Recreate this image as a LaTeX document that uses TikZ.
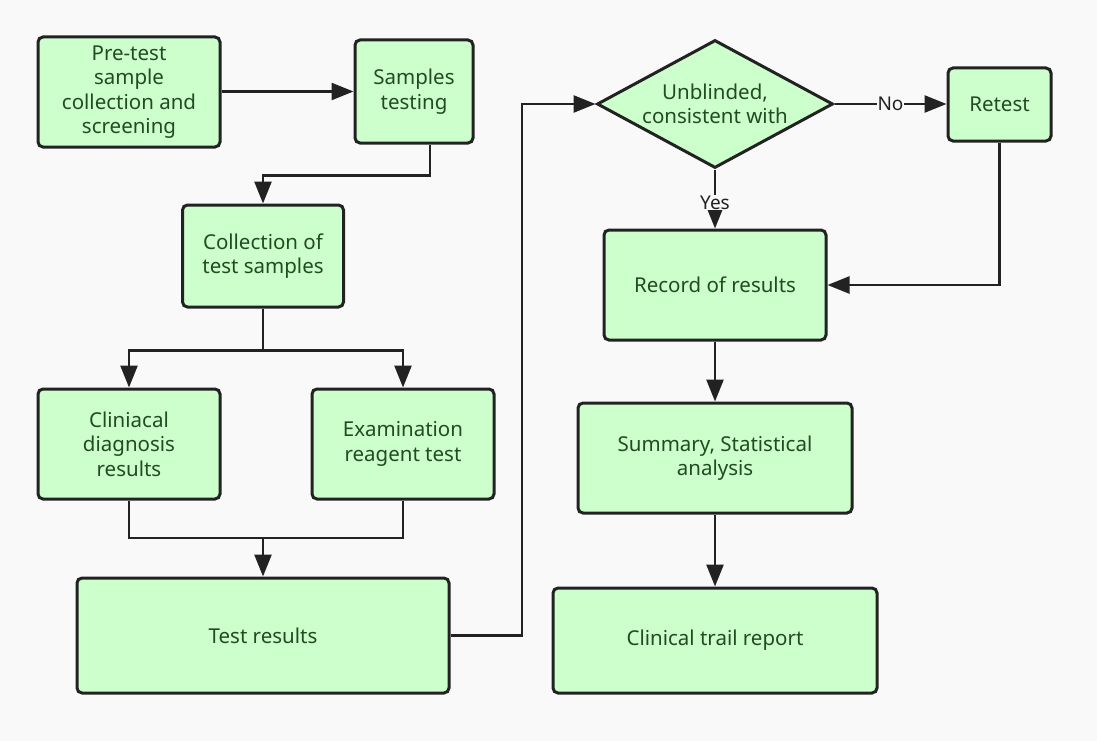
\documentclass[tikz,border=0pt]{standalone}
\usepackage{fontspec}
\setmainfont{Noto Sans}
\usetikzlibrary{shapes.geometric,arrows.meta,positioning}
\definecolor{bgc}{RGB}{249,249,249}
\definecolor{boxfill}{RGB}{204,255,204}
\definecolor{boxtext}{RGB}{35,75,35}
\definecolor{linec}{RGB}{34,34,34}
\tikzset{
  box/.style={draw=linec, line width=3pt, fill=boxfill, rounded corners=5pt,
    text=boxtext, align=center, font=\fontsize{20.5}{24.5}\selectfont, inner sep=0pt},
  decision/.style={draw=linec, line width=3pt, fill=boxfill, diamond, aspect=1.84,
    minimum width=236pt, minimum height=128pt, inner sep=0pt,
    text=boxtext, align=center, font=\fontsize{20.5}{24.5}\selectfont},
  conn/.style={draw=linec, line width=2.6pt},
  arr/.style={conn, -{Triangle[length=22pt,width=17pt]}},
  lbl/.style={fill=bgc, text=linec, inner sep=1pt, font=\fontsize{19}{21}\selectfont}
}
\begin{document}
\begin{tikzpicture}[x=1pt,y=-1pt]
\fill[bgc] (0,0) rectangle (1097,741);
\useasboundingbox (0,0) rectangle (1097,741);

\node[box, minimum width=182pt, minimum height=110pt] (pre) at (129,92) {Pre-test\\sample\\collection and\\screening};
\node[box, minimum width=118pt, minimum height=103pt] (samp) at (414,91.5) {Samples\\testing};
\node[box, minimum width=161pt, minimum height=102pt] (coll) at (263,256) {Collection of\\test samples};
\node[box, minimum width=182pt, minimum height=110pt] (clin) at (129,444) {Cliniacal\\diagnosis\\results};
\node[box, minimum width=182pt, minimum height=110pt] (exam) at (403,444) {Examination\\reagent test};
\node[box, minimum width=372pt, minimum height=115pt] (test) at (263,635.5) {Test results};

\node[decision] (dia) at (715,104) {Unblinded,\\consistent with};
\node[box, minimum width=103pt, minimum height=73pt] (ret) at (999.5,104.5) {Retest};
\node[box, minimum width=222pt, minimum height=110pt] (rec) at (715,285) {Record of results};
\node[box, minimum width=274pt, minimum height=110pt] (sum) at (715,458) {Summary, Statistical\\analysis};
\node[box, minimum width=324pt, minimum height=105pt] (rep) at (715,640.5) {Clinical trail report};

\coordinate (j1) at (263,538);
\coordinate (c1) at (522,635.5);

\draw[arr] (pre.east |- samp.west) -- (samp.west);
\draw[arr] ([xshift=16pt]samp.south) -- ++(0,31) -| (coll.north);
\draw[arr] (coll.south) -- ++(0,42) -| (clin.north);
\draw[arr] (coll.south) -- ++(0,42) -| (exam.north);
\draw[conn] (clin.south) |- (j1) -| (exam.south);
\draw[arr] (j1) -- (test.north);
\draw[arr] (test.east) -- (c1) |- (dia.west);
\draw[arr] (dia.east) -- node[lbl, pos=0.5] {No} (dia.east -| ret.west);
\draw[arr] (dia.south) -- node[lbl, pos=0.56] {Yes} (rec.north);
\draw[arr] (ret.south) |- (rec.east);
\draw[arr] (rec.south) -- (sum.north);
\draw[arr] (sum.south) -- (rep.north);
\end{tikzpicture}
\end{document}
